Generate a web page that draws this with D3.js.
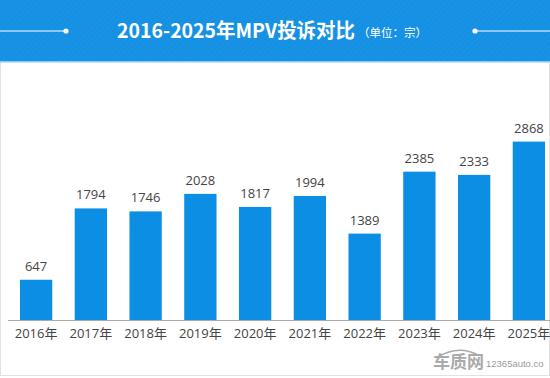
<!DOCTYPE html>
<html><head><meta charset="utf-8">
<script src="https://cdn.jsdelivr.net/npm/d3@7"></script>
<style>html,body{margin:0;padding:0;background:#fff;}svg{display:block;}</style>
</head><body>
<script>
const categories = ["2016年","2017年","2018年","2019年","2020年","2021年","2022年","2023年","2024年","2025年"];
const values = [647,1794,1746,2028,1817,1994,1389,2385,2333,2868];
const title = "2016-2025年MPV投诉对比";
const unitText = "（单位：宗）";

const W = 550, H = 378;
const svg = d3.select("body").append("svg").attr("width", W).attr("height", H);
const defs = svg.append("defs");
const pat = defs.append("pattern").attr("id","stripes").attr("patternUnits","userSpaceOnUse")
  .attr("width",4).attr("height",4).attr("patternTransform","rotate(45)");
pat.append("rect").attr("width",4).attr("height",4).attr("fill","#1690e2");
pat.append("rect").attr("width",1).attr("height",4).attr("fill","#1a95e6");

// frame
svg.append("rect").attr("x",0.5).attr("y",0.5).attr("width",W-1).attr("height",375).attr("fill","#fff").attr("stroke","#e2e2e2");
// header
svg.append("rect").attr("x",0).attr("y",0).attr("width",W).attr("height",61).attr("fill","url(#stripes)");
svg.append("rect").attr("x",0).attr("y",61).attr("width",W).attr("height",1.5).attr("fill","#8cc8f2");
svg.append("line").attr("x1",0).attr("x2",64).attr("y1",31).attr("y2",31).attr("stroke","#fff").attr("stroke-width",1.2);
svg.append("circle").attr("cx",66).attr("cy",31).attr("r",2.6).attr("fill","#fff");
svg.append("line").attr("x1",476).attr("x2",W).attr("y1",31).attr("y2",31).attr("stroke","#fff").attr("stroke-width",1.2);
svg.append("circle").attr("cx",475).attr("cy",31).attr("r",2.6).attr("fill","#fff");
const tt = svg.append("text").attr("x",117).attr("y",38).attr("fill","#fff")
  .attr("font-family","'Noto Sans CJK SC','Noto Sans',sans-serif").attr("font-weight","bold");
tt.append("tspan").attr("font-size",20).attr("textLength",238).attr("lengthAdjust","spacingAndGlyphs").text(title);
svg.append("text").attr("x",358).attr("y",37).attr("fill","#fff").attr("font-size",11.5)
  .attr("font-family","'Noto Sans CJK SC',sans-serif").text(unitText);

// chart
const x = d3.scaleBand().domain(categories).range([9, 556]).paddingInner(0.41).paddingOuter(0.2);
const y = d3.scaleLinear().domain([0, 3000]).range([320, 320 - 3000*0.0622]);

svg.append("g").selectAll("rect").data(values).join("rect")
  .attr("x",(d,i)=>x(categories[i])).attr("width",x.bandwidth())
  .attr("y",d=>y(d)).attr("height",d=>y(0)-y(d)).attr("fill","#0b8ee3");

svg.append("g").selectAll("text").data(values).join("text")
  .attr("x",(d,i)=>x(categories[i])+x.bandwidth()/2).attr("y",d=>y(d)-9)
  .attr("text-anchor","middle").attr("font-size",13).attr("fill","#444")
  .attr("font-family","'Open Sans','Noto Sans',sans-serif").text(d=>d);

const ax = svg.append("g").attr("transform","translate(0,320)")
  .call(d3.axisBottom(x).tickSize(0).tickPadding(9));
ax.select(".domain").attr("stroke","#aaa").attr("stroke-width",1.2).attr("d","M8,0.5H550");
ax.selectAll("text").attr("font-size",13).attr("fill","#444")
  .attr("font-family","'Open Sans','Noto Sans CJK SC',sans-serif");

// watermark
svg.append("text").attr("x",433).attr("y",368).attr("font-size",17).attr("font-weight","bold")
  .attr("fill","#aaa").attr("font-family","'Noto Sans CJK SC',sans-serif").text("车质网");
svg.append("text").attr("x",486).attr("y",367).attr("font-size",9.5)
  .attr("fill","#999").attr("font-family","'Liberation Sans',sans-serif").text("12365auto.co");
svg.append("path").attr("d","M436,358 Q458,344 478,355").attr("fill","none").attr("stroke","#aaa").attr("stroke-width",1.5);
</script>
</body></html>
